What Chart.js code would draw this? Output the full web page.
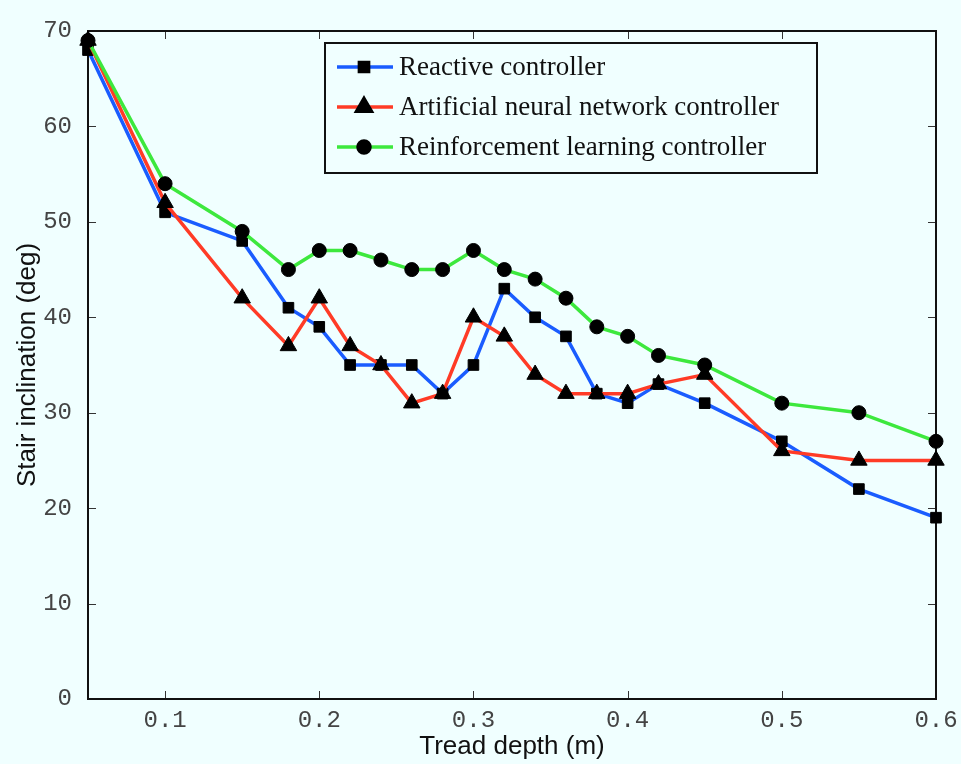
<!DOCTYPE html>
<html>
<head>
<meta charset="utf-8">
<title>Stair inclination vs tread depth</title>
<script src="https://cdn.jsdelivr.net/npm/chart.js@4.4.1/dist/chart.umd.min.js"></script>
<style>
  html, body { margin: 0; padding: 0; background: #f0ffff; }
  #chart { display: block; }
</style>
</head>
<body>
<canvas id="chart" width="961" height="764"></canvas>
<script>
// tread depth (m)
const treadDepth = [0.05, 0.1, 0.15, 0.18, 0.2, 0.22, 0.24, 0.26, 0.28, 0.3,
                    0.32, 0.34, 0.36, 0.38, 0.4, 0.42, 0.45, 0.5, 0.55, 0.6];
// stair inclination (deg) per controller
const reactive = [68, 51, 48, 41, 39, 35, 35, 35, 32, 35, 43, 40, 38, 32, 31, 33, 31, 27, 22, 19];
const annCtrl  = [69, 52, 42, 37, 42, 37, 35, 31, 32, 40, 38, 34, 32, 32, 32, 33, 34, 26, 25, 25];
const rlCtrl   = [69, 54, 49, 45, 47, 47, 46, 45, 45, 47, 45, 44, 42, 39, 38, 36, 35, 31, 30, 27];

const seriesNames = ["Reactive controller", "Artificial neural network controller", "Reinforcement learning controller"];
const xTicks = [0.1, 0.2, 0.3, 0.4, 0.5, 0.6];
const yTicks = [0, 10, 20, 30, 40, 50, 60, 70];

const BG = "#f0ffff";
const monoFont = "'Liberation Mono', 'DejaVu Sans Mono', monospace";
const sansFont = "'Liberation Sans', Arial, sans-serif";

function toPoints(ys) {
  return treadDepth.map((x, i) => ({ x: x, y: ys[i] }));
}

const styles = [
  { color: "#1a5cff", marker: "rect", radius: 7.5 },
  { color: "#ff3b26", marker: "triangle", radius: 9.5 },
  { color: "#3de83d", marker: "circle", radius: 7 },
];

const datasets = [reactive, annCtrl, rlCtrl].map((ys, i) => ({
  label: seriesNames[i],
  data: toPoints(ys),
  showLine: true,
  borderColor: styles[i].color,
  borderWidth: 3.5,
  pointStyle: styles[i].marker,
  pointRadius: styles[i].radius,
  pointBackgroundColor: "#000",
  pointBorderColor: "#000",
  pointBorderWidth: 1,
  clip: false,
  order: 3 - i,
}));

// background, frame and inward tick marks on all four sides
const framePlugin = {
  id: "frame",
  beforeDraw(chart) {
    const ctx = chart.ctx;
    ctx.save();
    ctx.fillStyle = BG;
    ctx.fillRect(0, 0, chart.width, chart.height);
    ctx.restore();
  },
  beforeDatasetsDraw(chart) {
    const { ctx, chartArea: a, scales } = chart;
    const len = 8;
    ctx.save();
    ctx.strokeStyle = "#333";
    ctx.lineWidth = 1;
    ctx.beginPath();
    xTicks.forEach(v => {
      const px = Math.round(scales.x.getPixelForValue(v)) + 0.5;
      ctx.moveTo(px, a.bottom); ctx.lineTo(px, a.bottom - len);
      ctx.moveTo(px, a.top); ctx.lineTo(px, a.top + len);
    });
    yTicks.forEach(v => {
      const py = Math.round(scales.y.getPixelForValue(v)) + 0.5;
      ctx.moveTo(a.left, py); ctx.lineTo(a.left + len, py);
      ctx.moveTo(a.right, py); ctx.lineTo(a.right - len, py);
    });
    ctx.stroke();
    ctx.strokeStyle = "#111";
    ctx.lineWidth = 2;
    ctx.strokeRect(a.left, a.top, a.right - a.left, a.bottom - a.top);
    ctx.restore();
  },
};

// boxed legend with line + marker samples
const legendPlugin = {
  id: "boxLegend",
  afterDraw(chart) {
    const ctx = chart.ctx;
    const box = { x: 325, y: 43, w: 492, h: 130 };
    ctx.save();
    ctx.fillStyle = BG;
    ctx.fillRect(box.x, box.y, box.w, box.h);
    ctx.strokeStyle = "#111";
    ctx.lineWidth = 2;
    ctx.strokeRect(box.x, box.y, box.w, box.h);
    seriesNames.forEach((name, i) => {
      const y = box.y + 24 + i * 40;
      const st = styles[i];
      ctx.strokeStyle = st.color;
      ctx.lineWidth = 3.5;
      ctx.beginPath();
      ctx.moveTo(box.x + 12, y);
      ctx.lineTo(box.x + 68, y);
      ctx.stroke();
      ctx.fillStyle = "#000";
      ctx.strokeStyle = "#000";
      Chart.helpers.drawPoint(ctx, {
        pointStyle: st.marker, radius: st.radius - 1, rotation: 0, borderWidth: 1,
      }, box.x + 39, y);
      ctx.fillStyle = "#111";
      ctx.font = "27px 'Liberation Serif', 'Times New Roman', serif";
      ctx.textBaseline = "middle";
      ctx.textAlign = "left";
      ctx.fillText(name, box.x + 74, y + 1);
    });
    ctx.restore();
  },
};

new Chart(document.getElementById("chart"), {
  type: "scatter",
  data: { datasets },
  plugins: [framePlugin, legendPlugin],
  options: {
    responsive: false,
    animation: false,
    layout: { padding: { top: 31, right: 25, left: 0, bottom: 0 } },
    plugins: { legend: { display: false }, tooltip: { enabled: false } },
    scales: {
      x: {
        type: "linear",
        min: 0.05,
        max: 0.6,
        afterBuildTicks: s => { s.ticks = xTicks.map(v => ({ value: v })); },
        afterFit: s => { s.height = 65; s.paddingLeft = 0; s.paddingRight = 0; },
        grid: { display: false },
        border: { display: false },
        ticks: {
          color: "#444",
          padding: -1,
          font: { family: monoFont, size: 24 },
          callback: v => v.toFixed(1),
          maxRotation: 0,
          autoSkip: false,
        },
        title: {
          display: true,
          text: "Tread depth (m)",
          color: "#111",
          font: { family: sansFont, size: 26 },
          padding: { top: 0, bottom: 2 },
        },
      },
      y: {
        min: 0,
        max: 70,
        afterBuildTicks: s => { s.ticks = yTicks.map(v => ({ value: v })); },
        afterFit: s => { s.width = 88; s.paddingTop = 0; s.paddingBottom = 0; },
        grid: { display: false },
        border: { display: false },
        ticks: {
          color: "#444",
          padding: 8,
          font: { family: monoFont, size: 24 },
          autoSkip: false,
        },
        title: {
          display: true,
          text: "Stair inclination (deg)",
          color: "#111",
          font: { family: sansFont, size: 26 },
          padding: { top: 12, bottom: 0 },
        },
      },
    },
  },
});
</script>
</body>
</html>
